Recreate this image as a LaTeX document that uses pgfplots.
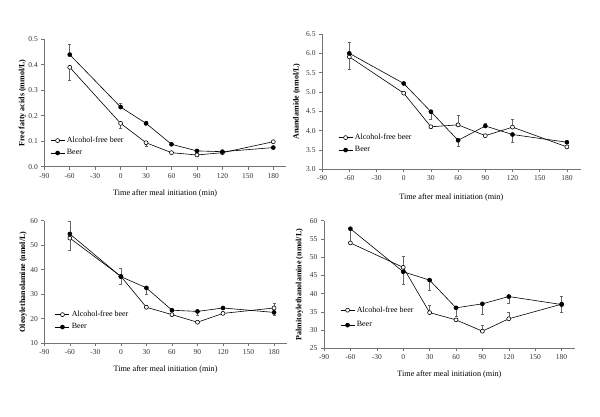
\documentclass[border=0pt]{standalone}
\usepackage{fontspec}
\setmainfont{Liberation Serif}
\usepackage{pgfplots}
\pgfplotsset{compat=1.18}
\pgfplotsset{
 panel/.style={
  scale only axis, anchor=south west,
  axis x line*=bottom, axis y line*=left,
  axis line style={black!55, line width=0.6pt, -},
  every tick/.style={black!55, line width=0.6pt},
  major tick length=3pt, tick align=outside,
  xmin=-90, xmax=195, xtick={-90,-60,-30,0,30,60,90,120,150,180},
  enlargelimits=false, clip=false,
  tick label style={font=\fontsize{7.5}{9}\selectfont, text=black!80},
  /pgf/number format/assume math mode=true,
  every axis y label/.style={rotate=90, anchor=center, font=\fontsize{8}{9.6}\selectfont\bfseries},
  every axis x label/.style={anchor=center, font=\fontsize{8.2}{10}\selectfont},
  legend style={draw=none, fill=none, font=\fontsize{8}{9.6}\selectfont, anchor=west, row sep=1.5pt, inner sep=0pt},
  legend cell align=left,
  legend image code/.code={\draw[mark repeat=2,mark phase=2,##1] plot coordinates {(0pt,0pt)(7pt,0pt)(14pt,0pt)};},
  xlabel={Time after meal initiation (min)},
 },
 af/.style={black, line width=0.6pt, mark=*, mark size=2pt, mark options={fill=white, draw=black, solid},
   error bars/y dir=both, error bars/y explicit,
   error bars/error bar style={black!60, line width=0.6pt},
   error bars/error mark options={rotate=90, mark size=1.5pt, black!60}},
 br/.style={black, line width=0.6pt, mark=*, mark size=2pt, mark options={fill=black, draw=black, solid},
   error bars/y dir=both, error bars/y explicit,
   error bars/error bar style={black!60, line width=0.6pt},
   error bars/error mark options={rotate=90, mark size=1.5pt, black!60}},
}
\begin{document}
\begin{tikzpicture}
\useasboundingbox (0pt,0pt) rectangle (600pt,416pt);
% Panel 1
\begin{axis}[panel, at={(44.3pt,249.3pt)}, width=241.7pt, height=127.4pt,
  ymin=0, ymax=0.5, ytick={0,0.1,0.2,0.3,0.4,0.5},
  yticklabel style={/pgf/number format/.cd, fixed, fixed zerofill, precision=1},
  ylabel={Free fatty acids (mmol/L)},
  ylabel style={at={([xshift=-22pt]axis description cs:0,0.5)}},
  xlabel style={at={([yshift=-26.3pt]axis description cs:0.5,0)}},
  legend style={at={(axis description cs:0.024,0.157)}}]
\addplot[af] table[x=x,y=y,y error plus=ep,y error minus=em] {
x y ep em
-60 0.39 0 0.05
0 0.17 0 0.02
30 0.094 0 0.012
60 0.055 0 0
90 0.046 0 0
120 0.055 0 0
180 0.098 0 0
};
\addlegendentry{Alcohol-free beer}
\addplot[br] table[x=x,y=y,y error plus=ep,y error minus=em] {
x y ep em
-60 0.44 0.04 0
0 0.234 0.016 0
30 0.17 0.01 0
60 0.088 0 0
90 0.062 0 0
120 0.059 0 0
180 0.075 0 0
};
\addlegendentry{Beer}
\end{axis}
% Panel 2
\begin{axis}[panel, at={(322.1pt,246.7pt)}, width=258.4pt, height=135.3pt,
  ymin=3, ymax=6.5, ytick={3,3.5,4,4.5,5,5.5,6,6.5},
  yticklabel style={/pgf/number format/.cd, fixed, fixed zerofill, precision=1},
  ylabel={Anandamide (nmol/L)},
  ylabel style={at={([xshift=-25.4pt]axis description cs:0,0.5)}},
  xlabel style={at={([yshift=-28pt]axis description cs:0.5,0)}},
  legend style={at={(axis description cs:0.062,0.189)}}]
\addplot[af] table[x=x,y=y,y error plus=ep,y error minus=em] {
x y ep em
-60 5.91 0 0.32
0 4.97 0 0
30 4.10 0 0
60 4.15 0.25 0
90 3.87 0 0
120 4.09 0.20 0
180 3.58 0 0
};
\addlegendentry{Alcohol-free beer}
\addplot[br] table[x=x,y=y,y error plus=ep,y error minus=em] {
x y ep em
-60 6.00 0.30 0
0 5.22 0 0
30 4.49 0 0.19
60 3.75 0 0.15
90 4.12 0.07 0
120 3.90 0 0.20
180 3.70 0 0
};
\addlegendentry{Beer}
\end{axis}
% Panel 3
\begin{axis}[panel, at={(44.3pt,72.7pt)}, width=242.5pt, height=122.6pt,
  ymin=10, ymax=60, ytick={10,20,30,40,50,60},
  ylabel={Oleoylethanolamine (nmol/L)},
  ylabel style={at={([xshift=-21pt]axis description cs:0,0.5)}},
  xlabel style={at={([yshift=-26pt]axis description cs:0.5,0)}},
  legend style={at={(axis description cs:0.044,0.184)}}]
\addplot[af] table[x=x,y=y,y error plus=ep,y error minus=em] {
x y ep em
-60 52.9 0 5.0
0 37.3 0 3.1
30 24.7 1.0 0
60 21.7 0 0
90 18.6 0 0
120 22.2 0 0
180 24.4 2.0 0
};
\addlegendentry{Alcohol-free beer}
\addplot[br] table[x=x,y=y,y error plus=ep,y error minus=em] {
x y ep em
-60 54.6 5.1 0
0 37.2 3.5 0
30 32.6 0 2.5
60 23.5 0 0
90 23.0 0 1.6
120 24.4 0 0
180 22.6 0 1.2
};
\addlegendentry{Beer}
\end{axis}
% Panel 4
\begin{axis}[panel, at={(324pt,67.7pt)}, width=250.8pt, height=127.6pt,
  ymin=25, ymax=60, ytick={25,30,35,40,45,50,55,60},
  ylabel={Palmitoylethanolamine (nmol/L)},
  ylabel style={at={([xshift=-24.5pt]axis description cs:0,0.5)}},
  xlabel style={at={([yshift=-25.7pt]axis description cs:0.5,0)}},
  legend style={at={(axis description cs:0.064,0.241)}, row sep=4pt}]
\addplot[af] table[x=x,y=y,y error plus=ep,y error minus=em] {
x y ep em
-60 53.9 3.8 0
0 47.2 3.0 0
30 34.8 2.0 0
60 32.8 0 0
90 29.7 1.6 0
120 33.1 1.9 0
180 37.1 2.2 0
};
\addlegendentry{Alcohol-free beer}
\addplot[br] table[x=x,y=y,y error plus=ep,y error minus=em] {
x y ep em
-60 57.8 0 0
0 46.0 0 3.4
30 43.7 0 2.7
60 36.1 0 2.2
90 37.2 0 2.9
120 39.2 0 1.9
180 37.0 0 2.1
};
\addlegendentry{Beer}
\end{axis}
\end{tikzpicture}
\end{document}
